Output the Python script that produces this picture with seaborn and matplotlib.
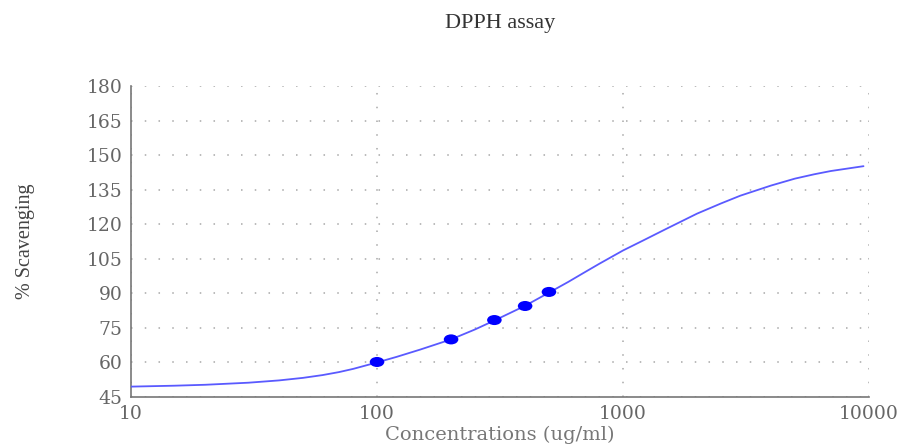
import numpy as np
import pandas as pd
import matplotlib
matplotlib.use("Agg")
import matplotlib.pyplot as plt
import seaborn as sns
from matplotlib.path import Path
from matplotlib.transforms import Affine2D
from matplotlib.ticker import FixedLocator, MultipleLocator, NullFormatter

# measured points (concentration ug/ml, % scavenging)
conc = [100, 200, 300, 400, 500]
scav = [60.2, 70.0, 78.4, 84.5, 90.6]

# fitted curve
fit_conc = [10, 15, 20, 30, 40, 50, 60, 70, 80, 100, 120, 150, 200, 250, 300,
            400, 500, 600, 700, 800, 1000, 1200, 1500, 2000, 2500, 3000, 4000,
            5000, 6000, 7000, 9500]
fit_scav = [49.5, 49.9, 50.3, 51.2, 52.2, 53.3, 54.5, 55.8, 57.2, 60.0, 62.4,
            65.6, 70.0, 74.3, 78.2, 84.6, 90.3, 95.0, 99.2, 102.8, 108.6, 112.8,
            118.0, 124.6, 129.0, 132.4, 136.8, 139.8, 141.7, 143.1, 145.2]

x_ticks = [10, 100, 1000, 10000]
y_ticks = [45, 60, 75, 90, 105, 120, 135, 150, 165, 180]

sns.set_style("white")
plt.rcParams['font.family'] = ['DejaVu Serif']

fig = plt.figure(figsize=(9.05, 4.45), dpi=100)
ax = fig.add_axes([0.1448, 0.1079, 0.8154, 0.6988])

pts = pd.DataFrame({"conc": conc, "scav": scav})
curve = pd.DataFrame({"conc": fit_conc, "scav": fit_scav})

sns.lineplot(data=curve, x="conc", y="scav", ax=ax, color="#5a5aff", linewidth=1.3, zorder=3)

ell = Path.unit_circle().transformed(Affine2D().scale(1.45, 1.0))
sns.scatterplot(data=pts, x="conc", y="scav", ax=ax, marker=ell, s=110,
                color="#0000ff", edgecolor="none", zorder=4)

ax.set_xscale("log")
ax.set_xlim(10, 10000)
ax.set_ylim(45, 180)
ax.xaxis.set_major_locator(FixedLocator(x_ticks))
ax.set_xticklabels([str(t) for t in x_ticks])
ax.xaxis.set_minor_formatter(NullFormatter())
ax.yaxis.set_major_locator(FixedLocator(y_ticks))
ax.set_yticklabels([str(t) for t in y_ticks])
ax.yaxis.set_minor_locator(MultipleLocator(3))

ax.grid(True, which="major", color="#a8a8a8", linestyle=(0, (1, 8)), linewidth=1.1)
for side in ["top", "right"]:
    ax.spines[side].set_visible(False)
for side in ["left", "bottom"]:
    ax.spines[side].set_color("#777777")
    ax.spines[side].set_linewidth(1.2)

ax.tick_params(axis="both", which="major", direction="out", length=5, width=1,
               color="#777777", labelcolor="#666666", labelsize=13.5, pad=1)
ax.tick_params(axis="both", which="minor", direction="out", length=2.5, width=0.8,
               color="#888888")

ax.set_xlabel("Concentrations (ug/ml)", fontsize=14, color="#777777", labelpad=1.5)
ax.set_ylabel("% Scavenging", fontsize=14.5, color="#444444", labelpad=37,
              family=["Liberation Sans Narrow", "Liberation Serif", "DejaVu Serif"])
ax.set_title("DPPH assay", fontsize=16, color="#333333", pad=42,
             family=["Liberation Serif", "DejaVu Serif"])

fig.savefig("out.png", dpi=100)
